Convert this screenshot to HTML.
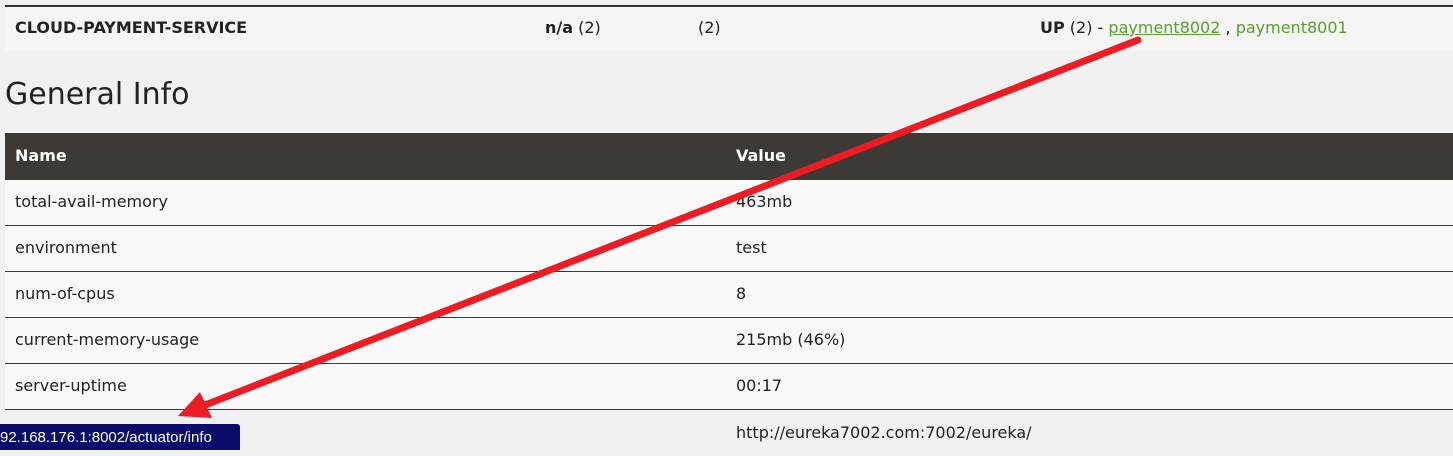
<!DOCTYPE html>
<html><head><meta charset="utf-8"><style>
body{margin:0;width:1453px;height:450px;overflow:hidden;background:#f1f1f1;font-family:"DejaVu Sans","Liberation Sans",sans-serif;color:#222;position:relative}
.abs{position:absolute}
.row{position:absolute;left:5px;width:1448px;height:45px;background:#f9f9f9;border-bottom:1px solid #3d3935;font-size:16px}
.row span{position:absolute;top:12px}
.c1{left:10px}.c2{left:731px}
a{color:#5a9e2e;text-decoration:none}
</style></head><body>
<div class="abs" style="left:5px;top:5px;width:1448px;height:2px;background:#333"></div>
<div class="abs" style="left:5px;top:7px;width:1448px;height:44px;background:#f5f5f5;font-size:16px">
<span class="abs" style="left:10px;top:11px;font-weight:bold">CLOUD-PAYMENT-SERVICE</span>
<span class="abs" style="left:540px;top:11px"><b>n/a</b> (2)</span>
<span class="abs" style="left:693px;top:11px">(2)</span>
<span class="abs" style="left:1035px;top:11px"><b>UP</b> (2) - <a href="#" style="text-decoration:underline">payment8002</a> , <a href="#">payment8001</a></span>
</div>
<div class="abs" style="left:5px;top:77px;font-size:30px;color:#222">General Info</div>
<div class="abs" style="left:5px;top:133px;width:1448px;height:47px;background:#3d3935;color:#fff;font-weight:bold;font-size:16px">
<span class="abs" style="left:10px;top:13px">Name</span><span class="abs" style="left:731px;top:13px">Value</span></div>
<div class="row" style="top:180px"><span class="c1">total-avail-memory</span><span class="c2">463mb</span></div>
<div class="row" style="top:226px"><span class="c1">environment</span><span class="c2">test</span></div>
<div class="row" style="top:272px"><span class="c1">num-of-cpus</span><span class="c2">8</span></div>
<div class="row" style="top:318px"><span class="c1">current-memory-usage</span><span class="c2">215mb (46%)</span></div>
<div class="row" style="top:364px"><span class="c1">server-uptime</span><span class="c2">00:17</span></div>
<div class="row" style="top:411px;background:#f1f1f1;border:none"><span class="c2" style="top:12px">http://eureka7002.com:7002/eureka/</span></div>
<svg class="abs" style="left:0;top:0" width="1453" height="450">
<line x1="1138" y1="40" x2="200" y2="407" stroke="#ec1c24" stroke-width="7" stroke-linecap="round"/>
<polygon points="178,416 200,392 212,418" fill="#ec1c24"/>
</svg>
<div class="abs" style="left:0;top:424px;width:240px;height:26px;background:#0b0b6b;color:#fff;font-family:'Liberation Sans',sans-serif;font-size:15px;line-height:28px;border-top-right-radius:3px;white-space:nowrap;overflow:hidden">92.168.176.1:8002/actuator/info</div>
</body></html>
